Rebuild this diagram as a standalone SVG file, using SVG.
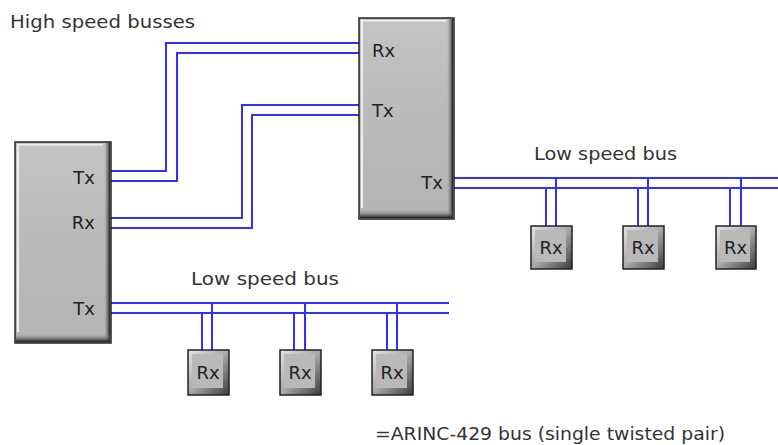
<svg xmlns="http://www.w3.org/2000/svg" width="778" height="445" viewBox="0 0 778 445">
<defs>
<linearGradient id="body" x1="0" y1="0" x2="0" y2="1">
<stop offset="0" stop-color="#c4c4c4"/>
<stop offset="0.5" stop-color="#bababa"/>
<stop offset="1" stop-color="#b4b4b4"/>
</linearGradient>
<linearGradient id="rEdge" x1="0" y1="0" x2="1" y2="0">
<stop offset="0" stop-color="#999" stop-opacity="0"/>
<stop offset="1" stop-color="#1a1a1a"/>
</linearGradient>
<linearGradient id="bEdge" x1="0" y1="0" x2="0" y2="1">
<stop offset="0" stop-color="#999" stop-opacity="0"/>
<stop offset="1" stop-color="#1a1a1a"/>
</linearGradient>
<linearGradient id="small" x1="0" y1="0" x2="1" y2="1">
<stop offset="0" stop-color="#e6e6e6"/>
<stop offset="0.5" stop-color="#a8a8a8"/>
<stop offset="1" stop-color="#3a3a3a"/>
</linearGradient>
</defs>
<style>
.t{font-family:"DejaVu Sans","Liberation Sans",sans-serif;font-size:18px;fill:#222}
.bl{font-family:"DejaVu Sans","Liberation Sans",sans-serif;font-size:18px;fill:#333}
.w{fill:none;stroke:#2f2fff;stroke-width:2}
.frame{fill:url(#body);stroke:#222;stroke-width:1.5}
.hl{fill:#f4f4f4;opacity:0.9}
.sb{fill:url(#small);stroke:#222;stroke-width:1.5}
.sbi{fill:#b9b9b9}
</style>

<g id="connectors">
<path class="w" d="M111,171 H166 V43 H359"/>
<path class="w" d="M111,181 H177 V53 H359"/>
<path class="w" d="M111,218 H242 V105 H359"/>
<path class="w" d="M111,228 H252 V115 H359"/>
<path class="w" d="M454,178 H778"/>
<path class="w" d="M454,188 H778"/>
<path class="w" d="M546,188 V226 M556,178 V226"/>
<path class="w" d="M638,188 V226 M648,178 V226"/>
<path class="w" d="M730,188 V226 M741,178 V226"/>
<path class="w" d="M111,303 H449"/>
<path class="w" d="M111,313 H449"/>
<path class="w" d="M202,313 V350 M212,303 V350"/>
<path class="w" d="M294,313 V350 M305,303 V350"/>
<path class="w" d="M387,313 V350 M397,303 V350"/>
</g>

<g id="box-left">
<rect class="frame" x="15" y="142" width="96" height="201"/>
<rect x="104" y="143" width="6" height="199" fill="url(#rEdge)"/>
<rect x="16" y="334" width="94" height="8" fill="url(#bEdge)"/>
<rect class="hl" x="17" y="144" width="2" height="188"/>
<rect class="hl" x="17" y="144" width="86" height="1.5"/>
<text class="t" x="95" y="184" text-anchor="end">Tx</text>
<text class="t" x="95" y="229" text-anchor="end">Rx</text>
<text class="t" x="95" y="315" text-anchor="end">Tx</text>
</g>

<g id="box-right">
<rect class="frame" x="359" y="18" width="95" height="201"/>
<rect x="447" y="19" width="6" height="199" fill="url(#rEdge)"/>
<rect x="360" y="210" width="93" height="8" fill="url(#bEdge)"/>
<rect class="hl" x="361" y="20" width="2" height="188"/>
<rect class="hl" x="361" y="20" width="85" height="1.5"/>
<text class="t" x="372" y="57">Rx</text>
<text class="t" x="372" y="117">Tx</text>
<text class="t" x="443" y="189" text-anchor="end">Tx</text>
</g>

<g id="rx-r1"><rect class="sb" x="531" y="226" width="41" height="43"/><rect class="sbi" x="535" y="230" width="31" height="32"/><text class="t" x="551" y="254" text-anchor="middle">Rx</text></g>
<g id="rx-r2"><rect class="sb" x="623" y="226" width="41" height="43"/><rect class="sbi" x="627" y="230" width="31" height="32"/><text class="t" x="643" y="254" text-anchor="middle">Rx</text></g>
<g id="rx-r3"><rect class="sb" x="716" y="226" width="40" height="43"/><rect class="sbi" x="720" y="230" width="30" height="32"/><text class="t" x="735.5" y="254" text-anchor="middle">Rx</text></g>

<g id="rx-b1"><rect class="sb" x="188" y="350" width="41" height="45"/><rect class="sbi" x="192" y="354" width="31" height="34"/><text class="t" x="208" y="379" text-anchor="middle">Rx</text></g>
<g id="rx-b2"><rect class="sb" x="280" y="350" width="41" height="45"/><rect class="sbi" x="284" y="354" width="31" height="34"/><text class="t" x="300" y="379" text-anchor="middle">Rx</text></g>
<g id="rx-b3"><rect class="sb" x="372" y="350" width="41" height="45"/><rect class="sbi" x="376" y="354" width="31" height="34"/><text class="t" x="392" y="379" text-anchor="middle">Rx</text></g>

<g id="labels">
<text class="bl" x="10" y="28" textLength="185" lengthAdjust="spacingAndGlyphs">High speed busses</text>
<text class="bl" x="534" y="160" textLength="143" lengthAdjust="spacingAndGlyphs">Low speed bus</text>
<text class="bl" x="191" y="285" textLength="148" lengthAdjust="spacingAndGlyphs">Low speed bus</text>
<text class="bl" x="375" y="440" textLength="350" lengthAdjust="spacingAndGlyphs">=ARINC-429 bus (single twisted pair)</text>
</g>
</svg>
